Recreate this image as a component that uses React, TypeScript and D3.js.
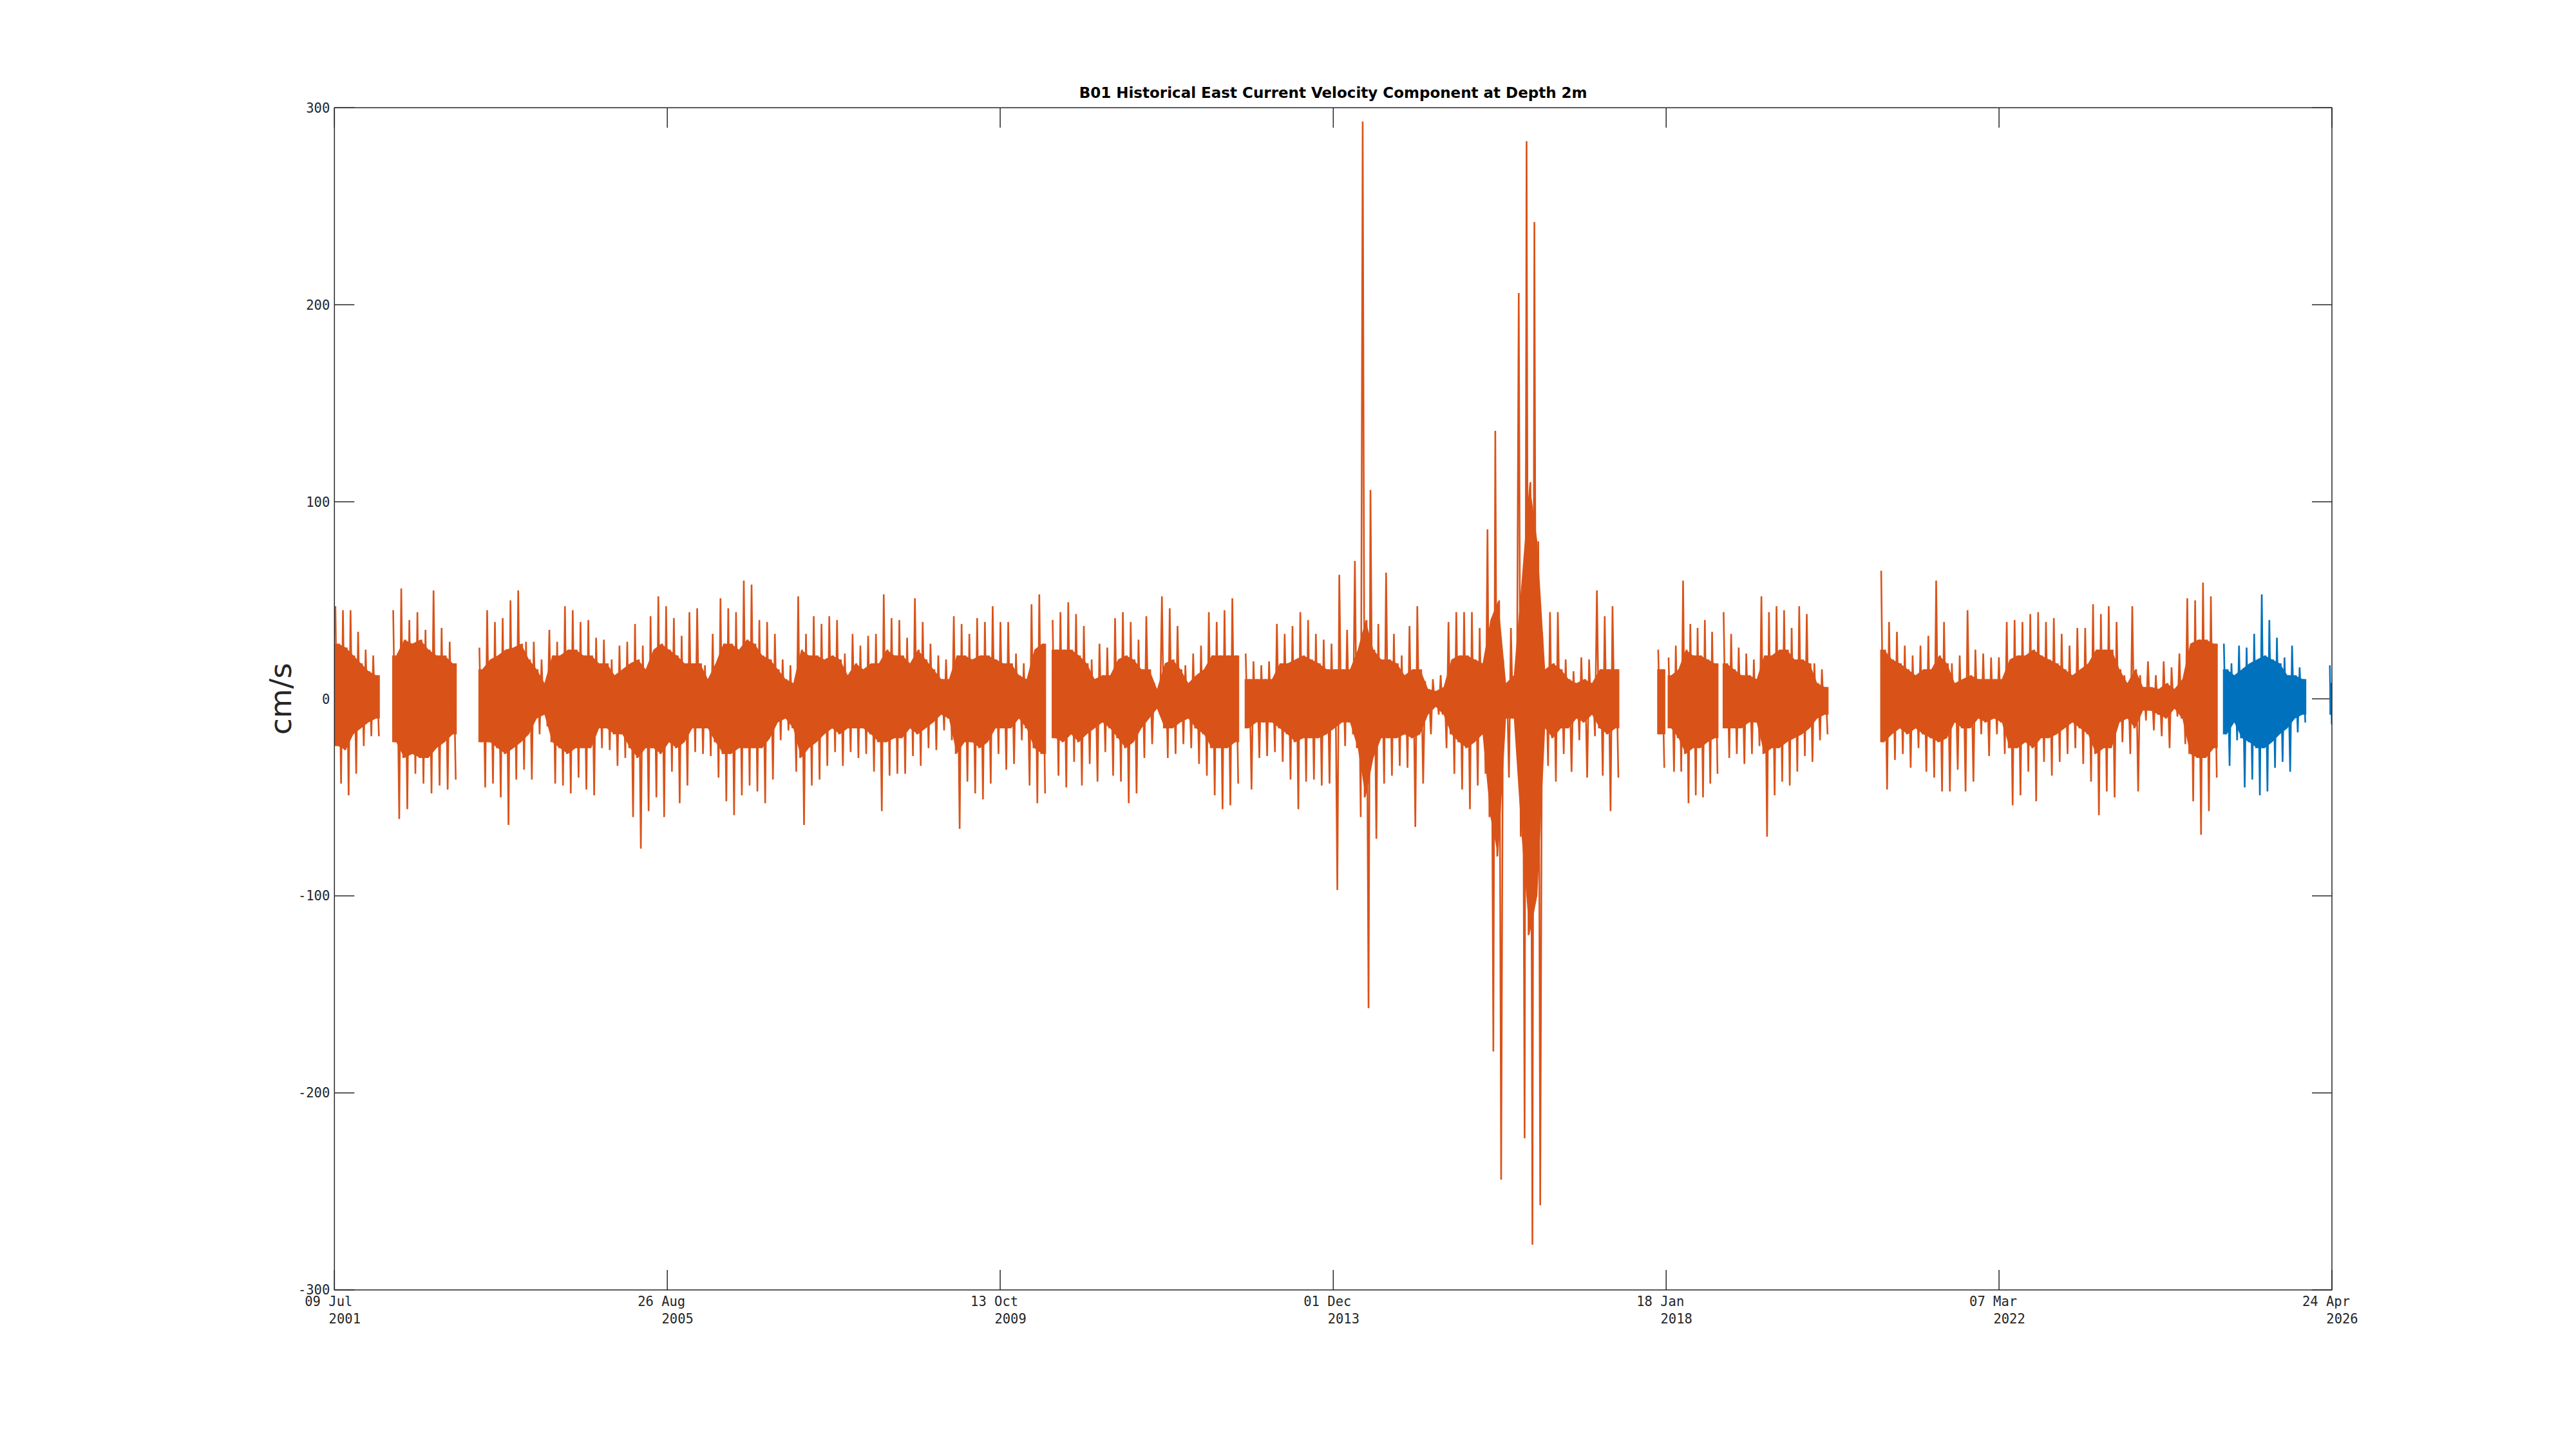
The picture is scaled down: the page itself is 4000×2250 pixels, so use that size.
import React from "react";
import * as d3 from "d3";

// ---------- axis / tick data ----------
const xTickDates = ["2001-07-09", "2005-08-26", "2009-10-13", "2013-12-01", "2018-01-18", "2022-03-07", "2026-04-24"];
const xTickDay = ["09 Jul", "26 Aug", "13 Oct", "01 Dec", "18 Jan", "07 Mar", "24 Apr"];
const xTickYear = ["2001", "2005", "2009", "2013", "2018", "2022", "2026"];
const yTicks = [-300, -200, -100, 0, 100, 200, 300];

// ---------- data segments (decimal years) ----------
const segSeries = ["hist", "hist", "hist", "hist", "hist", "hist", "hist", "hist", "hist", "recent", "recent"];
const segStart = [2001.518, 2002.235, 2003.306, 2010.420, 2012.815, 2017.935, 2018.065, 2018.748, 2020.703, 2024.956, 2026.280];
const segEnd = [2002.082, 2003.037, 2010.351, 2012.747, 2017.465, 2018.036, 2018.696, 2020.063, 2024.892, 2025.991, 2026.312];

// extreme (max / min) velocity in consecutive equal time bins of each segment, cm/s
const peakHi = [
  [47, 45, 45, 34, 25, 22],
  [45, 56, 40, 44, 35, 55, 36, 29],
  [26, 45, 39, 41, 50, 55, 29, 29, 20, 35, 29, 47, 45, 39, 40, 31, 30, 20, 27, 29, 38, 27, 42, 52, 47, 41, 32, 44, 46, 17, 33, 51, 46, 44, 60, 58, 40, 39, 33, 20, 17, 52, 33, 42, 38, 42,
    40, 23, 33, 27, 32, 33, 53, 41, 40, 31, 51, 39, 28, 22, 20, 42, 38, 33, 41, 39, 47, 39, 39, 23, 18, 48, 53],
  [40, 44, 49, 43, 37, 20, 28, 26, 41, 44, 39, 30, 42, 8, 52, 46, 37, 17, 23, 27, 44, 39, 45, 51],
  [23, 19, 17, 19, 38, 33, 37, 44, 40, 33, 30, 28, 63, 35, 70, 293, 106, 38, 64, 33, 22, 37, 47, 9, 10, 12, 39, 44, 44, 44, 36, 86, 136, 20, 36, 206, 283, 242, 34, 44, 44, 20, 14, 21, 20, 55, 42, 47],
  [25],
  [21, 27, 60, 38, 36, 40, 34],
  [44, 33, 26, 23, 20, 52, 44, 47, 45, 36, 47, 43, 18, 15],
  [65, 39, 34, 27, 22, 27, 32, 60, 39, 18, 22, 45, 25, 23, 21, 21, 39, 40, 39, 43, 44, 39, 41, 33, 27, 36, 36, 48, 43, 47, 39, 12, 47, 12, 19, 12, 19, 16, 23, 51, 50, 59, 52],
  [28, 18, 27, 26, 33, 53, 40, 31, 21, 27, 16],
  [17],
];
const peakLo = [
  [-43, -49, -38, -24, -19, -19],
  [-61, -56, -38, -43, -48, -44, -46, -41],
  [-45, -43, -50, -64, -41, -36, -41, -18, -14, -43, -44, -48, -40, -46, -49, -25, -26, -34, -30, -60, -76, -57, -50, -60, -37, -53, -44, -27, -28, -29, -40, -52, -59, -49, -44, -47, -53, -41, -21, -16, -37, -64, -44, -41, -34, -27,
    -34, -27, -30, -28, -37, -57, -39, -38, -38, -29, -34, -25, -26, -16, -21, -66, -42, -48, -51, -43, -28, -36, -33, -21, -44, -53, -48],
  [-39, -45, -32, -44, -33, -42, -27, -39, -42, -53, -48, -30, -23, -8, -30, -28, -23, -25, -33, -39, -49, -56, -54, -43],
  [-46, -30, -29, -27, -32, -41, -56, -42, -41, -44, -43, -97, -24, -18, -60, -157, -71, -43, -39, -34, -35, -65, -43, -18, -8, -25, -38, -46, -56, -44, -38, -179, -244, -40, -19, -223, -277, -257, -34, -42, -28, -37, -21, -40, -19, -39, -57, -40],
  [-35],
  [-37, -37, -53, -49, -50, -43, -38],
  [-30, -28, -33, -28, -24, -70, -49, -42, -44, -37, -29, -32, -21, -18],
  [-46, -31, -28, -35, -25, -37, -40, -47, -47, -36, -47, -42, -18, -29, -18, -28, -54, -49, -37, -52, -32, -39, -32, -28, -25, -33, -42, -59, -47, -50, -22, -28, -47, -11, -16, -19, -25, -9, -23, -52, -69, -57, -40],
  [-34, -21, -45, -41, -49, -47, -35, -32, -37, -17, -12],
  [-13],
];

// upper / lower edge of the densely filled part of the trace, same bins, cm/s
const denseHi = [
  [28, 26, 22, 18, 14, 12],
  [22, 30, 28, 30, 25, 22, 22, 18],
  [15, 20, 22, 25, 26, 28, 20, 15, 8, 22, 22, 25, 25, 22, 22, 18, 18, 12, 15, 18, 20, 15, 25, 28, 25, 22, 18, 18, 18, 10, 18, 28, 28, 25, 30, 28, 22, 20, 15, 10, 8, 25, 22, 22, 20, 22,
    20, 12, 18, 15, 18, 18, 25, 22, 22, 18, 25, 20, 15, 10, 10, 22, 22, 20, 22, 22, 20, 18, 18, 12, 10, 25, 28],
  [25, 25, 25, 22, 18, 10, 12, 12, 20, 22, 20, 15, 15, 5, 18, 20, 15, 8, 12, 15, 22, 22, 22, 22],
  [10, 10, 10, 10, 18, 18, 20, 22, 20, 18, 15, 15, 15, 15, 25, 40, 25, 20, 20, 18, 12, 15, 15, 5, 4, 6, 20, 22, 22, 20, 18, 40, 50, 8, 12, 60, 110, 80, 15, 18, 15, 10, 8, 10, 8, 15, 15, 15],
  [15],
  [12, 15, 25, 22, 22, 20, 18],
  [18, 15, 12, 12, 10, 22, 22, 25, 25, 20, 20, 18, 8, 6],
  [25, 20, 18, 15, 12, 15, 15, 22, 18, 8, 10, 12, 10, 10, 10, 10, 20, 22, 22, 25, 22, 20, 18, 15, 12, 15, 18, 25, 25, 25, 15, 8, 15, 6, 6, 5, 8, 5, 10, 28, 30, 30, 28],
  [15, 12, 15, 18, 20, 22, 20, 18, 12, 12, 10],
  [8],
];
const denseLo = [
  [-24, -26, -18, -15, -12, -10],
  [-22, -30, -28, -30, -30, -25, -22, -18],
  [-22, -22, -25, -28, -25, -22, -18, -10, -8, -22, -25, -28, -25, -25, -25, -15, -15, -18, -18, -25, -30, -25, -25, -28, -22, -25, -22, -15, -15, -15, -22, -28, -28, -25, -25, -25, -25, -20, -12, -10, -15, -30, -25, -22, -18, -15,
    -18, -15, -15, -15, -18, -22, -22, -20, -20, -15, -18, -15, -12, -8, -10, -28, -22, -22, -25, -22, -15, -15, -15, -10, -15, -25, -28],
  [-20, -22, -18, -22, -18, -15, -12, -15, -20, -25, -22, -15, -10, -5, -15, -15, -12, -10, -15, -18, -25, -25, -25, -22],
  [-15, -12, -12, -12, -15, -18, -22, -20, -20, -20, -18, -15, -12, -12, -25, -50, -30, -20, -20, -20, -18, -20, -18, -8, -4, -8, -18, -22, -25, -22, -18, -60, -80, -10, -10, -70, -120, -100, -15, -20, -15, -15, -10, -12, -8, -15, -18, -15],
  [-18],
  [-15, -20, -28, -25, -25, -22, -20],
  [-15, -15, -15, -12, -12, -28, -25, -25, -22, -20, -18, -15, -10, -8],
  [-22, -18, -15, -18, -15, -18, -20, -22, -20, -12, -15, -15, -10, -12, -10, -12, -25, -25, -22, -25, -20, -20, -18, -15, -12, -15, -18, -28, -25, -25, -12, -10, -15, -6, -6, -8, -10, -5, -10, -28, -30, -30, -25],
  [-18, -12, -20, -22, -25, -25, -22, -18, -15, -10, -8],
  [-8],
];

const seriesColor: Record<string, string> = { hist: "#D95319", recent: "#0072BD" };

// ---------- layout ----------
const W = 4000;
const H = 2250;
const PL = 519.3;
const PR = 3621;
const PT = 167.3;
const PB = 2003;
const TICK = 31;
const AXIS = "#262626";
const MONO = "'DejaVu Sans Mono', 'Liberation Mono', monospace";
const SANS = "'DejaVu Sans', 'Liberation Sans', sans-serif";

function decToDate(v: number): Date {
  const yr = Math.floor(v);
  const a = Date.UTC(yr, 0, 1);
  const b = Date.UTC(yr + 1, 0, 1);
  return new Date(a + (v - yr) * (b - a));
}

export default function App() {
  const x = d3
    .scaleUtc()
    .domain([new Date(Date.UTC(2001, 6, 9)), new Date(Date.UTC(2026, 3, 24))])
    .range([PL, PR]);
  const y = d3.scaleLinear().domain([-300, 300]).range([PB, PT]);

  const line = d3
    .line<[number, number]>()
    .x((d) => x(decToDate(d[0])))
    .y((d) => y(d[1]));
  const area = d3
    .area<[number, number, number]>()
    .x((d) => x(decToDate(d[0])))
    .y0((d) => y(d[2]))
    .y1((d) => y(d[1]));

  const segs = segStart.map((t0, i) => {
    const t1 = segEnd[i];
    const hi = peakHi[i];
    const lo = peakLo[i];
    const dh = denseHi[i];
    const dl = denseLo[i];
    const n = hi.length;
    const w = (t1 - t0) / n;
    const pts: [number, number][] = [];
    const band: [number, number, number][] = [[t0, dh[0], dl[0]]];
    for (let k = 0; k < n; k++) {
      pts.push([t0 + (k + 0.125) * w, hi[k]]);
      pts.push([t0 + (k + 0.375) * w, dl[k]]);
      pts.push([t0 + (k + 0.625) * w, dh[k]]);
      pts.push([t0 + (k + 0.875) * w, lo[k]]);
      band.push([t0 + (k + 0.5) * w, dh[k], dl[k]]);
    }
    band.push([t1, dh[n - 1], dl[n - 1]]);
    return { color: seriesColor[segSeries[i]], d: line(pts) || "", band: area(band) || "" };
  });

  const xTicks = xTickDates.map((s) => x(new Date(s + "T00:00:00Z")));

  return (
    <svg
      width={W}
      height={H}
      viewBox={`0 0 ${W} ${H}`}
      style={{ position: "absolute", left: 0, top: 0, display: "block", background: "#fff" }}
    >
      <rect x={0} y={0} width={W} height={H} fill="#fff" />
      <defs>
        <clipPath id="plotclip">
          <rect x={PL} y={PT} width={PR - PL} height={PB - PT} />
        </clipPath>
      </defs>

      {/* ticks (drawn beneath data, like MATLAB) */}
      <g stroke={AXIS} strokeWidth={1.5} fill="none">
        {xTicks.map((tx, i) => (
          <g key={"xt" + i}>
            <line x1={tx} x2={tx} y1={PB} y2={PB - TICK} />
            <line x1={tx} x2={tx} y1={PT} y2={PT + TICK} />
          </g>
        ))}
        {yTicks.map((v, i) => (
          <g key={"yt" + i}>
            <line x1={PL} x2={PL + TICK} y1={y(v)} y2={y(v)} />
            <line x1={PR} x2={PR - TICK} y1={y(v)} y2={y(v)} />
          </g>
        ))}
      </g>

      {/* data */}
      <g clipPath="url(#plotclip)">
        {segs.map((s, i) => (
          <g key={"s" + i}>
            <path d={s.band} fill={s.color} stroke="none" />
            <path d={s.d} fill="none" stroke={s.color} strokeWidth={2.6} strokeLinejoin="miter" />
          </g>
        ))}
      </g>

      {/* box */}
      <rect x={PL} y={PT} width={PR - PL} height={PB - PT} fill="none" stroke={AXIS} strokeWidth={1.5} />

      {/* y tick labels */}
      <g fontFamily={MONO} fontSize={20.5} fill={AXIS} textAnchor="end">
        {yTicks.map((v, i) => (
          <text key={"yl" + i} x={PL - 7} y={y(v)} dy="0.36em">
            {String(v)}
          </text>
        ))}
      </g>

      {/* x tick labels */}
      <g fontFamily={MONO} fontSize={20.5} fill={AXIS} textAnchor="middle">
        {xTicks.map((tx, i) => (
          <g key={"xl" + i}>
            <text x={tx - 9} y={2027.5}>
              {xTickDay[i]}
            </text>
            <text x={tx + 16} y={2054.5}>
              {xTickYear[i]}
            </text>
          </g>
        ))}
      </g>

      {/* y axis label */}
      <text
        transform={`translate(452, ${(PT + PB) / 2}) rotate(-90)`}
        textAnchor="middle"
        fontFamily={SANS}
        fontSize={47}
        fill={AXIS}
      >
        cm/s
      </text>

      {/* title */}
      <text x={(PL + PR) / 2} y={152.3} textAnchor="middle" fontFamily={SANS} fontWeight="bold" fontSize={23} fill="#000">
        B01 Historical East Current Velocity Component at Depth 2m
      </text>
    </svg>
  );
}
